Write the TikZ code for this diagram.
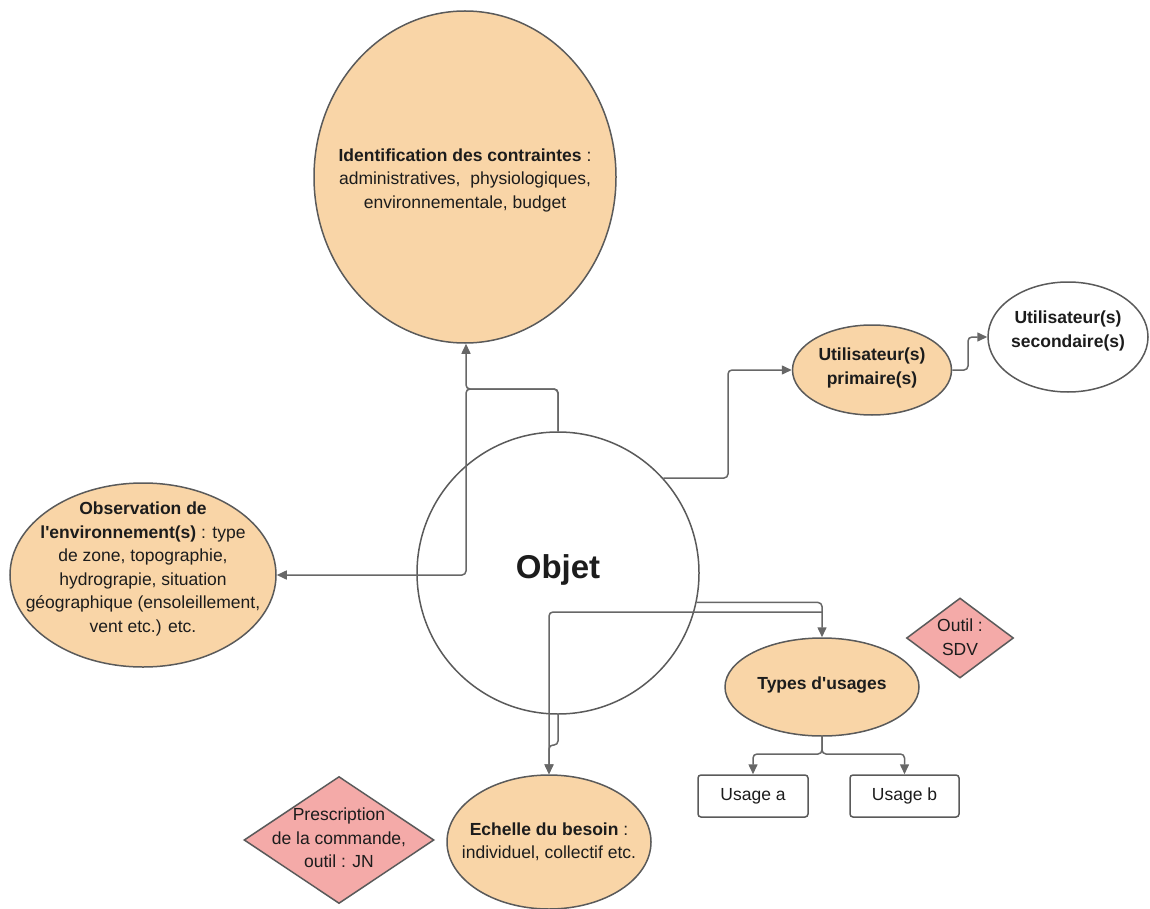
\documentclass[tikz,border=0pt]{standalone}
\usepackage{fontspec}
\setmainfont{Liberation Sans}
\usetikzlibrary{shapes.geometric,arrows.meta}

\definecolor{peach}{HTML}{F9D5A7}
\definecolor{rosy}{HTML}{F4AAA8}
\definecolor{edge}{HTML}{5A5A5A}
\definecolor{wire}{HTML}{676767}
\definecolor{ink}{HTML}{1C1C1C}

\newcommand{\apos}{\textquotesingle}

\tikzset{
  blob/.style={ellipse, draw=edge, line width=1.5pt, fill=peach, inner sep=0pt},
  blank/.style={ellipse, draw=edge, line width=1.5pt, fill=white, inner sep=0pt},
  gem/.style={diamond, draw=edge, line width=1.5pt, fill=rosy, inner sep=0pt},
  tag/.style={rectangle, rounded corners=3pt, draw=edge, line width=1.5pt, fill=white, inner sep=0pt},
  words/.style={align=center, text=ink, inner sep=0pt, font=\fontsize{17.5}{23.5}\selectfont},
  conn/.style={draw=wire, line width=1.5pt, rounded corners=4pt},
  arr/.style={conn, -{Triangle[length=10pt,width=9pt]}},
}

\begin{document}
\begin{tikzpicture}[x=1pt, y=-1pt]
\useasboundingbox (0,0) rectangle (1150,909);

% shapes
\node[blob, minimum width=302pt, minimum height=332pt] (ident) at (465,177) {};
\node[words] (ident-t) at (465,180) {\textbf{Identification des contraintes} :\\administratives,\ \ physiologiques,\\environnementale, budget};

\node[blob, minimum width=266pt, minimum height=184pt] (obs) at (143,575) {};
\node[words] (obs-t) at (143,569) {\textbf{Observation de}\\\textbf{l\apos environnement(s)} : type\\de zone, topographie,\\hydrograpie, situation\\géographique (ensoleillement,\\vent etc.) etc.};

\node[circle, draw=edge, line width=1.5pt, fill=white, minimum size=282pt, inner sep=0pt] (objet) at (558,573) {};
\node[text=ink, inner sep=0pt, font=\fontsize{33}{38}\selectfont\bfseries] (objet-t) at (558,570) {Objet};

\node[blob, minimum width=159pt, minimum height=90pt] (prim) at (872,370) {};
\node[words, font=\fontsize{17.5}{23.5}\selectfont\bfseries] (prim-t) at (872,368) {Utilisateur(s)\\primaire(s)};

\node[blank, minimum width=160pt, minimum height=110pt] (sec) at (1068,337) {};
\node[words, font=\fontsize{17.5}{23.5}\selectfont\bfseries] (sec-t) at (1068,331) {Utilisateur(s)\\secondaire(s)};

\node[blob, minimum width=194pt, minimum height=98pt] (types) at (822,687) {};
\node[words, font=\fontsize{17.5}{23.5}\selectfont\bfseries] (types-t) at (822,685) {Types d\apos usages};

\node[gem, minimum width=107pt, minimum height=80pt] (sdv) at (960,638) {};
\node[words] (sdv-t) at (960,637) {Outil :\\SDV};

\node[tag, minimum width=110pt, minimum height=42pt] (ua) at (753,796) {};
\node[words] (ua-t) at (753,796) {Usage a};
\node[tag, minimum width=109pt, minimum height=42pt] (ub) at (904.5,796) {};
\node[words] (ub-t) at (904.5,796) {Usage b};

\node[blob, minimum width=204pt, minimum height=134pt] (ech) at (549,842) {};
\node[words] (ech-t) at (549,842) {\textbf{Echelle du besoin} :\\individuel, collectif etc.};

\node[gem, minimum width=190pt, minimum height=127pt] (jn) at (339,840) {};
\node[words] (jn-t) at (339,838) {Prescription\\de la commande,\\outil : JN};

% bends of the connectors
\coordinate (up) at (466,389);
\coordinate (rise) at (728,478);
\coordinate (step) at (968,370);
\coordinate (fork) at (822,754);
\coordinate (drop) at (558,745);
\coordinate (ledge) at (822,612);

% connectors
\draw[arr] (objet.north) |- (up) -- (up |- ident.south);
\draw[arr] (objet.north) |- (up) |- (obs.east);
\draw[arr] (objet.42) -- (rise) |- (prim.west);
\draw[arr] (prim.east) -- (step) |- (sec.west);
\draw[arr] (objet.-12) -| (types.north);
\draw[arr] (ledge) -| (ech.north);
\draw[arr] (objet.south) -- (drop) -| (ech.north);
\draw[arr] (types.south) -- (fork) -| (ua.north);
\draw[arr] (types.south) -- (fork) -| (ub.north);
\end{tikzpicture}
\end{document}
